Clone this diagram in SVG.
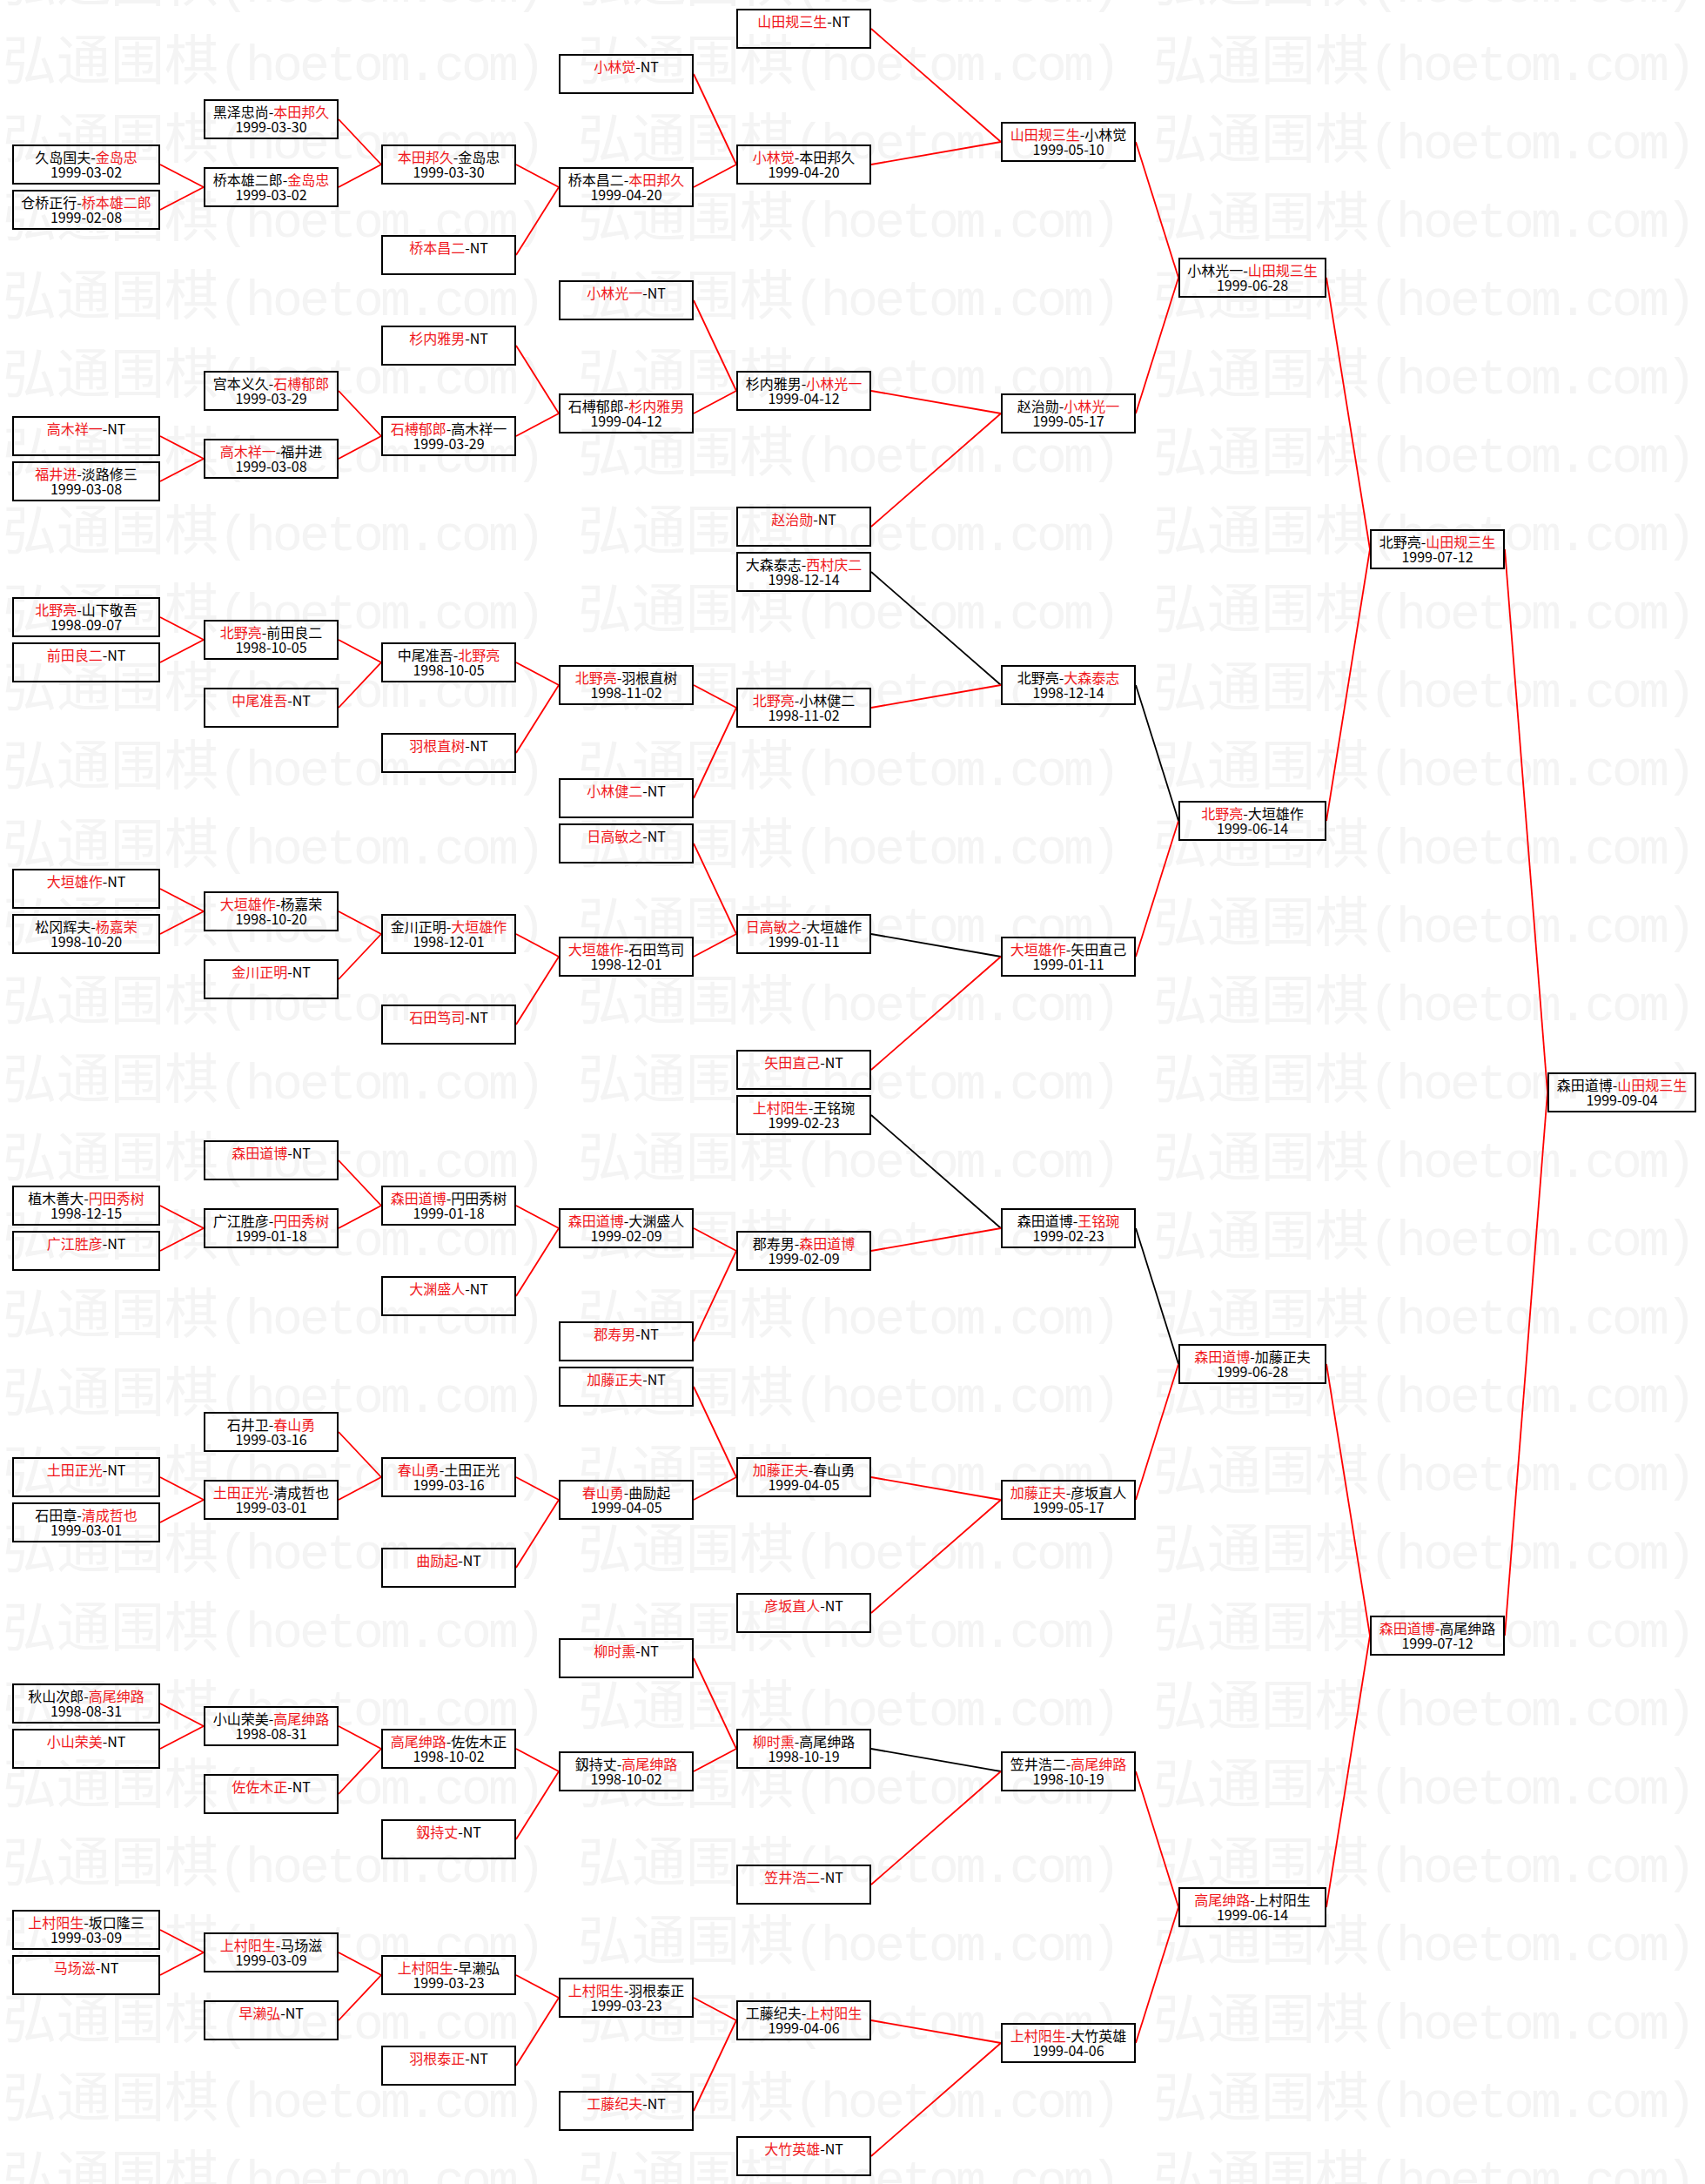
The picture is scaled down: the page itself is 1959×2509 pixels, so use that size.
<svg xmlns="http://www.w3.org/2000/svg" width="1959" height="2509" viewBox="0 0 1959 2509">
<style>
.bg{fill:#fff}
.wm{font-family:"Noto Sans CJK SC",sans-serif;font-size:62px;fill:#f4f4f4}
.wml{font-family:"Liberation Mono",monospace;font-size:58px;letter-spacing:-3.8px}
.nodes rect{fill:none;stroke:#000;stroke-width:2}
.nodes text{font-family:"Noto Sans CJK SC",sans-serif;font-size:16px;text-anchor:middle;fill:#000}
.nodes .r{fill:#f01820}
.conn line{stroke:#f00;stroke-width:1.8;fill:none}
.conn line.k{stroke:#000}
</style>
<defs>
<pattern id="wm" patternUnits="userSpaceOnUse" x="3" y="38" width="661" height="90"><text class="wm" x="0" y="54">弘通围棋<tspan class="wml">(hoetom.com)</tspan></text></pattern>
</defs>
<rect class="bg" width="1959" height="2509"/>
<rect width="1959" height="2509" fill="url(#wm)"/>
<g class="conn" id="connectors">
<line x1="184" y1="189" x2="234" y2="215"/><line x1="184" y1="241" x2="234" y2="215"/>
<line x1="184" y1="501" x2="234" y2="527"/><line x1="184" y1="553" x2="234" y2="527"/>
<line x1="184" y1="709" x2="234" y2="735"/><line x1="184" y1="761" x2="234" y2="735"/>
<line x1="184" y1="1021" x2="234" y2="1047"/><line x1="184" y1="1073" x2="234" y2="1047"/>
<line x1="184" y1="1385" x2="234" y2="1411"/><line x1="184" y1="1437" x2="234" y2="1411"/>
<line x1="184" y1="1697" x2="234" y2="1723"/><line x1="184" y1="1749" x2="234" y2="1723"/>
<line x1="184" y1="1957" x2="234" y2="1983"/><line x1="184" y1="2009" x2="234" y2="1983"/>
<line x1="184" y1="2217" x2="234" y2="2243"/><line x1="184" y1="2269" x2="234" y2="2243"/>
<line x1="389" y1="137" x2="438" y2="189"/><line x1="389" y1="215" x2="438" y2="189"/>
<line x1="389" y1="449" x2="438" y2="501"/><line x1="389" y1="527" x2="438" y2="501"/>
<line x1="389" y1="735" x2="438" y2="761"/><line x1="389" y1="813" x2="438" y2="761"/>
<line x1="389" y1="1047" x2="438" y2="1073"/><line x1="389" y1="1125" x2="438" y2="1073"/>
<line x1="389" y1="1333" x2="438" y2="1385"/><line x1="389" y1="1411" x2="438" y2="1385"/>
<line x1="389" y1="1645" x2="438" y2="1697"/><line x1="389" y1="1723" x2="438" y2="1697"/>
<line x1="389" y1="1983" x2="438" y2="2009"/><line x1="389" y1="2061" x2="438" y2="2009"/>
<line x1="389" y1="2243" x2="438" y2="2269"/><line x1="389" y1="2321" x2="438" y2="2269"/>
<line x1="593" y1="189" x2="642" y2="215"/><line x1="593" y1="293" x2="642" y2="215"/>
<line x1="593" y1="397" x2="642" y2="475"/><line x1="593" y1="501" x2="642" y2="475"/>
<line x1="593" y1="761" x2="642" y2="787"/><line x1="593" y1="865" x2="642" y2="787"/>
<line x1="593" y1="1073" x2="642" y2="1099"/><line x1="593" y1="1177" x2="642" y2="1099"/>
<line x1="593" y1="1385" x2="642" y2="1411"/><line x1="593" y1="1489" x2="642" y2="1411"/>
<line x1="593" y1="1697" x2="642" y2="1723"/><line x1="593" y1="1801" x2="642" y2="1723"/>
<line x1="593" y1="2009" x2="642" y2="2035"/><line x1="593" y1="2113" x2="642" y2="2035"/>
<line x1="593" y1="2269" x2="642" y2="2295"/><line x1="593" y1="2373" x2="642" y2="2295"/>
<line x1="797" y1="85" x2="846" y2="189"/><line x1="797" y1="215" x2="846" y2="189"/>
<line x1="797" y1="345" x2="846" y2="449"/><line x1="797" y1="475" x2="846" y2="449"/>
<line x1="797" y1="787" x2="846" y2="813"/><line x1="797" y1="917" x2="846" y2="813"/>
<line x1="797" y1="969" x2="846" y2="1073"/><line x1="797" y1="1099" x2="846" y2="1073"/>
<line x1="797" y1="1411" x2="846" y2="1437"/><line x1="797" y1="1541" x2="846" y2="1437"/>
<line x1="797" y1="1593" x2="846" y2="1697"/><line x1="797" y1="1723" x2="846" y2="1697"/>
<line x1="797" y1="1905" x2="846" y2="2009"/><line x1="797" y1="2035" x2="846" y2="2009"/>
<line x1="797" y1="2295" x2="846" y2="2321"/><line x1="797" y1="2425" x2="846" y2="2321"/>
<line x1="1001" y1="33" x2="1150" y2="163"/><line x1="1001" y1="189" x2="1150" y2="163"/>
<line x1="1001" y1="449" x2="1150" y2="475"/><line x1="1001" y1="605" x2="1150" y2="475"/>
<line class="k" x1="1001" y1="657" x2="1150" y2="787"/><line x1="1001" y1="813" x2="1150" y2="787"/>
<line class="k" x1="1001" y1="1073" x2="1150" y2="1099"/><line x1="1001" y1="1229" x2="1150" y2="1099"/>
<line class="k" x1="1001" y1="1281" x2="1150" y2="1411"/><line x1="1001" y1="1437" x2="1150" y2="1411"/>
<line x1="1001" y1="1697" x2="1150" y2="1723"/><line x1="1001" y1="1853" x2="1150" y2="1723"/>
<line class="k" x1="1001" y1="2009" x2="1150" y2="2035"/><line x1="1001" y1="2165" x2="1150" y2="2035"/>
<line x1="1001" y1="2321" x2="1150" y2="2347"/><line x1="1001" y1="2477" x2="1150" y2="2347"/>
<line x1="1305" y1="163" x2="1354" y2="319"/><line x1="1305" y1="475" x2="1354" y2="319"/>
<line class="k" x1="1305" y1="787" x2="1354" y2="943"/><line x1="1305" y1="1099" x2="1354" y2="943"/>
<line class="k" x1="1305" y1="1411" x2="1354" y2="1567"/><line x1="1305" y1="1723" x2="1354" y2="1567"/>
<line x1="1305" y1="2035" x2="1354" y2="2191"/><line x1="1305" y1="2347" x2="1354" y2="2191"/>
<line x1="1524" y1="319" x2="1574" y2="631"/><line x1="1524" y1="943" x2="1574" y2="631"/>
<line x1="1524" y1="1567" x2="1574" y2="1879"/><line x1="1524" y1="2191" x2="1574" y2="1879"/>
<line x1="1729" y1="631" x2="1778" y2="1255"/><line x1="1729" y1="1879" x2="1778" y2="1255"/>
</g>
<g class="nodes">
<g id="n0-6" transform="translate(14,166)"><rect x="1" y="1" width="168" height="44"/><text x="85" y="21">久岛国夫-<tspan class="r">金岛忠</tspan></text><text x="85" y="38">1999-03-02</text></g>
<g id="n0-8" transform="translate(14,218)"><rect x="1" y="1" width="168" height="44"/><text x="85" y="21">仓桥正行-<tspan class="r">桥本雄二郎</tspan></text><text x="85" y="38">1999-02-08</text></g>
<g id="n0-18" transform="translate(14,478)"><rect x="1" y="1" width="168" height="44"/><text x="85" y="21"><tspan class="r">高木祥一</tspan>-NT</text></g>
<g id="n0-20" transform="translate(14,530)"><rect x="1" y="1" width="168" height="44"/><text x="85" y="21"><tspan class="r">福井进</tspan>-淡路修三</text><text x="85" y="38">1999-03-08</text></g>
<g id="n0-26" transform="translate(14,686)"><rect x="1" y="1" width="168" height="44"/><text x="85" y="21"><tspan class="r">北野亮</tspan>-山下敬吾</text><text x="85" y="38">1998-09-07</text></g>
<g id="n0-28" transform="translate(14,738)"><rect x="1" y="1" width="168" height="44"/><text x="85" y="21"><tspan class="r">前田良二</tspan>-NT</text></g>
<g id="n0-38" transform="translate(14,998)"><rect x="1" y="1" width="168" height="44"/><text x="85" y="21"><tspan class="r">大垣雄作</tspan>-NT</text></g>
<g id="n0-40" transform="translate(14,1050)"><rect x="1" y="1" width="168" height="44"/><text x="85" y="21">松冈辉夫-<tspan class="r">杨嘉荣</tspan></text><text x="85" y="38">1998-10-20</text></g>
<g id="n0-52" transform="translate(14,1362)"><rect x="1" y="1" width="168" height="44"/><text x="85" y="21">植木善大-<tspan class="r">円田秀树</tspan></text><text x="85" y="38">1998-12-15</text></g>
<g id="n0-54" transform="translate(14,1414)"><rect x="1" y="1" width="168" height="44"/><text x="85" y="21"><tspan class="r">广江胜彦</tspan>-NT</text></g>
<g id="n0-64" transform="translate(14,1674)"><rect x="1" y="1" width="168" height="44"/><text x="85" y="21"><tspan class="r">土田正光</tspan>-NT</text></g>
<g id="n0-66" transform="translate(14,1726)"><rect x="1" y="1" width="168" height="44"/><text x="85" y="21">石田章-<tspan class="r">清成哲也</tspan></text><text x="85" y="38">1999-03-01</text></g>
<g id="n0-74" transform="translate(14,1934)"><rect x="1" y="1" width="168" height="44"/><text x="85" y="21">秋山次郎-<tspan class="r">高尾绅路</tspan></text><text x="85" y="38">1998-08-31</text></g>
<g id="n0-76" transform="translate(14,1986)"><rect x="1" y="1" width="168" height="44"/><text x="85" y="21"><tspan class="r">小山荣美</tspan>-NT</text></g>
<g id="n0-84" transform="translate(14,2194)"><rect x="1" y="1" width="168" height="44"/><text x="85" y="21"><tspan class="r">上村阳生</tspan>-坂口隆三</text><text x="85" y="38">1999-03-09</text></g>
<g id="n0-86" transform="translate(14,2246)"><rect x="1" y="1" width="168" height="44"/><text x="85" y="21"><tspan class="r">马场滋</tspan>-NT</text></g>

<g id="n1-4" transform="translate(234,114)"><rect x="1" y="1" width="153" height="44"/><text x="77.5" y="21">黑泽忠尚-<tspan class="r">本田邦久</tspan></text><text x="77.5" y="38">1999-03-30</text></g>
<g id="n1-7" transform="translate(234,192)"><rect x="1" y="1" width="153" height="44"/><text x="77.5" y="21">桥本雄二郎-<tspan class="r">金岛忠</tspan></text><text x="77.5" y="38">1999-03-02</text></g>
<g id="n1-16" transform="translate(234,426)"><rect x="1" y="1" width="153" height="44"/><text x="77.5" y="21">宫本义久-<tspan class="r">石榑郁郎</tspan></text><text x="77.5" y="38">1999-03-29</text></g>
<g id="n1-19" transform="translate(234,504)"><rect x="1" y="1" width="153" height="44"/><text x="77.5" y="21"><tspan class="r">高木祥一</tspan>-福井进</text><text x="77.5" y="38">1999-03-08</text></g>
<g id="n1-27" transform="translate(234,712)"><rect x="1" y="1" width="153" height="44"/><text x="77.5" y="21"><tspan class="r">北野亮</tspan>-前田良二</text><text x="77.5" y="38">1998-10-05</text></g>
<g id="n1-30" transform="translate(234,790)"><rect x="1" y="1" width="153" height="44"/><text x="77.5" y="21"><tspan class="r">中尾准吾</tspan>-NT</text></g>
<g id="n1-39" transform="translate(234,1024)"><rect x="1" y="1" width="153" height="44"/><text x="77.5" y="21"><tspan class="r">大垣雄作</tspan>-杨嘉荣</text><text x="77.5" y="38">1998-10-20</text></g>
<g id="n1-42" transform="translate(234,1102)"><rect x="1" y="1" width="153" height="44"/><text x="77.5" y="21"><tspan class="r">金川正明</tspan>-NT</text></g>
<g id="n1-50" transform="translate(234,1310)"><rect x="1" y="1" width="153" height="44"/><text x="77.5" y="21"><tspan class="r">森田道博</tspan>-NT</text></g>
<g id="n1-53" transform="translate(234,1388)"><rect x="1" y="1" width="153" height="44"/><text x="77.5" y="21">广江胜彦-<tspan class="r">円田秀树</tspan></text><text x="77.5" y="38">1999-01-18</text></g>
<g id="n1-62" transform="translate(234,1622)"><rect x="1" y="1" width="153" height="44"/><text x="77.5" y="21">石井卫-<tspan class="r">春山勇</tspan></text><text x="77.5" y="38">1999-03-16</text></g>
<g id="n1-65" transform="translate(234,1700)"><rect x="1" y="1" width="153" height="44"/><text x="77.5" y="21"><tspan class="r">土田正光</tspan>-清成哲也</text><text x="77.5" y="38">1999-03-01</text></g>
<g id="n1-75" transform="translate(234,1960)"><rect x="1" y="1" width="153" height="44"/><text x="77.5" y="21">小山荣美-<tspan class="r">高尾绅路</tspan></text><text x="77.5" y="38">1998-08-31</text></g>
<g id="n1-78" transform="translate(234,2038)"><rect x="1" y="1" width="153" height="44"/><text x="77.5" y="21"><tspan class="r">佐佐木正</tspan>-NT</text></g>
<g id="n1-85" transform="translate(234,2220)"><rect x="1" y="1" width="153" height="44"/><text x="77.5" y="21"><tspan class="r">上村阳生</tspan>-马场滋</text><text x="77.5" y="38">1999-03-09</text></g>
<g id="n1-88" transform="translate(234,2298)"><rect x="1" y="1" width="153" height="44"/><text x="77.5" y="21"><tspan class="r">早濑弘</tspan>-NT</text></g>

<g id="n2-6" transform="translate(438,166)"><rect x="1" y="1" width="153" height="44"/><text x="77.5" y="21"><tspan class="r">本田邦久</tspan>-金岛忠</text><text x="77.5" y="38">1999-03-30</text></g>
<g id="n2-10" transform="translate(438,270)"><rect x="1" y="1" width="153" height="44"/><text x="77.5" y="21"><tspan class="r">桥本昌二</tspan>-NT</text></g>
<g id="n2-14" transform="translate(438,374)"><rect x="1" y="1" width="153" height="44"/><text x="77.5" y="21"><tspan class="r">杉内雅男</tspan>-NT</text></g>
<g id="n2-18" transform="translate(438,478)"><rect x="1" y="1" width="153" height="44"/><text x="77.5" y="21"><tspan class="r">石榑郁郎</tspan>-高木祥一</text><text x="77.5" y="38">1999-03-29</text></g>
<g id="n2-28" transform="translate(438,738)"><rect x="1" y="1" width="153" height="44"/><text x="77.5" y="21">中尾准吾-<tspan class="r">北野亮</tspan></text><text x="77.5" y="38">1998-10-05</text></g>
<g id="n2-32" transform="translate(438,842)"><rect x="1" y="1" width="153" height="44"/><text x="77.5" y="21"><tspan class="r">羽根直树</tspan>-NT</text></g>
<g id="n2-40" transform="translate(438,1050)"><rect x="1" y="1" width="153" height="44"/><text x="77.5" y="21">金川正明-<tspan class="r">大垣雄作</tspan></text><text x="77.5" y="38">1998-12-01</text></g>
<g id="n2-44" transform="translate(438,1154)"><rect x="1" y="1" width="153" height="44"/><text x="77.5" y="21"><tspan class="r">石田笃司</tspan>-NT</text></g>
<g id="n2-52" transform="translate(438,1362)"><rect x="1" y="1" width="153" height="44"/><text x="77.5" y="21"><tspan class="r">森田道博</tspan>-円田秀树</text><text x="77.5" y="38">1999-01-18</text></g>
<g id="n2-56" transform="translate(438,1466)"><rect x="1" y="1" width="153" height="44"/><text x="77.5" y="21"><tspan class="r">大渊盛人</tspan>-NT</text></g>
<g id="n2-64" transform="translate(438,1674)"><rect x="1" y="1" width="153" height="44"/><text x="77.5" y="21"><tspan class="r">春山勇</tspan>-土田正光</text><text x="77.5" y="38">1999-03-16</text></g>
<g id="n2-68" transform="translate(438,1778)"><rect x="1" y="1" width="153" height="44"/><text x="77.5" y="21"><tspan class="r">曲励起</tspan>-NT</text></g>
<g id="n2-76" transform="translate(438,1986)"><rect x="1" y="1" width="153" height="44"/><text x="77.5" y="21"><tspan class="r">高尾绅路</tspan>-佐佐木正</text><text x="77.5" y="38">1998-10-02</text></g>
<g id="n2-80" transform="translate(438,2090)"><rect x="1" y="1" width="153" height="44"/><text x="77.5" y="21"><tspan class="r">釼持丈</tspan>-NT</text></g>
<g id="n2-86" transform="translate(438,2246)"><rect x="1" y="1" width="153" height="44"/><text x="77.5" y="21"><tspan class="r">上村阳生</tspan>-早濑弘</text><text x="77.5" y="38">1999-03-23</text></g>
<g id="n2-90" transform="translate(438,2350)"><rect x="1" y="1" width="153" height="44"/><text x="77.5" y="21"><tspan class="r">羽根泰正</tspan>-NT</text></g>

<g id="n3-2" transform="translate(642,62)"><rect x="1" y="1" width="153" height="44"/><text x="77.5" y="21"><tspan class="r">小林觉</tspan>-NT</text></g>
<g id="n3-7" transform="translate(642,192)"><rect x="1" y="1" width="153" height="44"/><text x="77.5" y="21">桥本昌二-<tspan class="r">本田邦久</tspan></text><text x="77.5" y="38">1999-04-20</text></g>
<g id="n3-12" transform="translate(642,322)"><rect x="1" y="1" width="153" height="44"/><text x="77.5" y="21"><tspan class="r">小林光一</tspan>-NT</text></g>
<g id="n3-17" transform="translate(642,452)"><rect x="1" y="1" width="153" height="44"/><text x="77.5" y="21">石榑郁郎-<tspan class="r">杉内雅男</tspan></text><text x="77.5" y="38">1999-04-12</text></g>
<g id="n3-29" transform="translate(642,764)"><rect x="1" y="1" width="153" height="44"/><text x="77.5" y="21"><tspan class="r">北野亮</tspan>-羽根直树</text><text x="77.5" y="38">1998-11-02</text></g>
<g id="n3-34" transform="translate(642,894)"><rect x="1" y="1" width="153" height="44"/><text x="77.5" y="21"><tspan class="r">小林健二</tspan>-NT</text></g>
<g id="n3-36" transform="translate(642,946)"><rect x="1" y="1" width="153" height="44"/><text x="77.5" y="21"><tspan class="r">日高敏之</tspan>-NT</text></g>
<g id="n3-41" transform="translate(642,1076)"><rect x="1" y="1" width="153" height="44"/><text x="77.5" y="21"><tspan class="r">大垣雄作</tspan>-石田笃司</text><text x="77.5" y="38">1998-12-01</text></g>
<g id="n3-53" transform="translate(642,1388)"><rect x="1" y="1" width="153" height="44"/><text x="77.5" y="21"><tspan class="r">森田道博</tspan>-大渊盛人</text><text x="77.5" y="38">1999-02-09</text></g>
<g id="n3-58" transform="translate(642,1518)"><rect x="1" y="1" width="153" height="44"/><text x="77.5" y="21"><tspan class="r">郡寿男</tspan>-NT</text></g>
<g id="n3-60" transform="translate(642,1570)"><rect x="1" y="1" width="153" height="44"/><text x="77.5" y="21"><tspan class="r">加藤正夫</tspan>-NT</text></g>
<g id="n3-65" transform="translate(642,1700)"><rect x="1" y="1" width="153" height="44"/><text x="77.5" y="21"><tspan class="r">春山勇</tspan>-曲励起</text><text x="77.5" y="38">1999-04-05</text></g>
<g id="n3-72" transform="translate(642,1882)"><rect x="1" y="1" width="153" height="44"/><text x="77.5" y="21"><tspan class="r">柳时熏</tspan>-NT</text></g>
<g id="n3-77" transform="translate(642,2012)"><rect x="1" y="1" width="153" height="44"/><text x="77.5" y="21">釼持丈-<tspan class="r">高尾绅路</tspan></text><text x="77.5" y="38">1998-10-02</text></g>
<g id="n3-87" transform="translate(642,2272)"><rect x="1" y="1" width="153" height="44"/><text x="77.5" y="21"><tspan class="r">上村阳生</tspan>-羽根泰正</text><text x="77.5" y="38">1999-03-23</text></g>
<g id="n3-92" transform="translate(642,2402)"><rect x="1" y="1" width="153" height="44"/><text x="77.5" y="21"><tspan class="r">工藤纪夫</tspan>-NT</text></g>

<g id="n4-0" transform="translate(846,10)"><rect x="1" y="1" width="153" height="44"/><text x="77.5" y="21"><tspan class="r">山田规三生</tspan>-NT</text></g>
<g id="n4-6" transform="translate(846,166)"><rect x="1" y="1" width="153" height="44"/><text x="77.5" y="21"><tspan class="r">小林觉</tspan>-本田邦久</text><text x="77.5" y="38">1999-04-20</text></g>
<g id="n4-16" transform="translate(846,426)"><rect x="1" y="1" width="153" height="44"/><text x="77.5" y="21">杉内雅男-<tspan class="r">小林光一</tspan></text><text x="77.5" y="38">1999-04-12</text></g>
<g id="n4-22" transform="translate(846,582)"><rect x="1" y="1" width="153" height="44"/><text x="77.5" y="21"><tspan class="r">赵治勋</tspan>-NT</text></g>
<g id="n4-24" transform="translate(846,634)"><rect x="1" y="1" width="153" height="44"/><text x="77.5" y="21">大森泰志-<tspan class="r">西村庆二</tspan></text><text x="77.5" y="38">1998-12-14</text></g>
<g id="n4-30" transform="translate(846,790)"><rect x="1" y="1" width="153" height="44"/><text x="77.5" y="21"><tspan class="r">北野亮</tspan>-小林健二</text><text x="77.5" y="38">1998-11-02</text></g>
<g id="n4-40" transform="translate(846,1050)"><rect x="1" y="1" width="153" height="44"/><text x="77.5" y="21"><tspan class="r">日高敏之</tspan>-大垣雄作</text><text x="77.5" y="38">1999-01-11</text></g>
<g id="n4-46" transform="translate(846,1206)"><rect x="1" y="1" width="153" height="44"/><text x="77.5" y="21"><tspan class="r">矢田直己</tspan>-NT</text></g>
<g id="n4-48" transform="translate(846,1258)"><rect x="1" y="1" width="153" height="44"/><text x="77.5" y="21"><tspan class="r">上村阳生</tspan>-王铭琬</text><text x="77.5" y="38">1999-02-23</text></g>
<g id="n4-54" transform="translate(846,1414)"><rect x="1" y="1" width="153" height="44"/><text x="77.5" y="21">郡寿男-<tspan class="r">森田道博</tspan></text><text x="77.5" y="38">1999-02-09</text></g>
<g id="n4-64" transform="translate(846,1674)"><rect x="1" y="1" width="153" height="44"/><text x="77.5" y="21"><tspan class="r">加藤正夫</tspan>-春山勇</text><text x="77.5" y="38">1999-04-05</text></g>
<g id="n4-70" transform="translate(846,1830)"><rect x="1" y="1" width="153" height="44"/><text x="77.5" y="21"><tspan class="r">彦坂直人</tspan>-NT</text></g>
<g id="n4-76" transform="translate(846,1986)"><rect x="1" y="1" width="153" height="44"/><text x="77.5" y="21"><tspan class="r">柳时熏</tspan>-高尾绅路</text><text x="77.5" y="38">1998-10-19</text></g>
<g id="n4-82" transform="translate(846,2142)"><rect x="1" y="1" width="153" height="44"/><text x="77.5" y="21"><tspan class="r">笠井浩二</tspan>-NT</text></g>
<g id="n4-88" transform="translate(846,2298)"><rect x="1" y="1" width="153" height="44"/><text x="77.5" y="21">工藤纪夫-<tspan class="r">上村阳生</tspan></text><text x="77.5" y="38">1999-04-06</text></g>
<g id="n4-94" transform="translate(846,2454)"><rect x="1" y="1" width="153" height="44"/><text x="77.5" y="21"><tspan class="r">大竹英雄</tspan>-NT</text></g>

<g id="n5-5" transform="translate(1150,140)"><rect x="1" y="1" width="153" height="44"/><text x="77.5" y="21"><tspan class="r">山田规三生</tspan>-小林觉</text><text x="77.5" y="38">1999-05-10</text></g>
<g id="n5-17" transform="translate(1150,452)"><rect x="1" y="1" width="153" height="44"/><text x="77.5" y="21">赵治勋-<tspan class="r">小林光一</tspan></text><text x="77.5" y="38">1999-05-17</text></g>
<g id="n5-29" transform="translate(1150,764)"><rect x="1" y="1" width="153" height="44"/><text x="77.5" y="21">北野亮-<tspan class="r">大森泰志</tspan></text><text x="77.5" y="38">1998-12-14</text></g>
<g id="n5-41" transform="translate(1150,1076)"><rect x="1" y="1" width="153" height="44"/><text x="77.5" y="21"><tspan class="r">大垣雄作</tspan>-矢田直己</text><text x="77.5" y="38">1999-01-11</text></g>
<g id="n5-53" transform="translate(1150,1388)"><rect x="1" y="1" width="153" height="44"/><text x="77.5" y="21">森田道博-<tspan class="r">王铭琬</tspan></text><text x="77.5" y="38">1999-02-23</text></g>
<g id="n5-65" transform="translate(1150,1700)"><rect x="1" y="1" width="153" height="44"/><text x="77.5" y="21"><tspan class="r">加藤正夫</tspan>-彦坂直人</text><text x="77.5" y="38">1999-05-17</text></g>
<g id="n5-77" transform="translate(1150,2012)"><rect x="1" y="1" width="153" height="44"/><text x="77.5" y="21">笠井浩二-<tspan class="r">高尾绅路</tspan></text><text x="77.5" y="38">1998-10-19</text></g>
<g id="n5-89" transform="translate(1150,2324)"><rect x="1" y="1" width="153" height="44"/><text x="77.5" y="21"><tspan class="r">上村阳生</tspan>-大竹英雄</text><text x="77.5" y="38">1999-04-06</text></g>

<g id="n6-11" transform="translate(1354,296)"><rect x="1" y="1" width="168" height="44"/><text x="85" y="21">小林光一-<tspan class="r">山田规三生</tspan></text><text x="85" y="38">1999-06-28</text></g>
<g id="n6-35" transform="translate(1354,920)"><rect x="1" y="1" width="168" height="44"/><text x="85" y="21"><tspan class="r">北野亮</tspan>-大垣雄作</text><text x="85" y="38">1999-06-14</text></g>
<g id="n6-59" transform="translate(1354,1544)"><rect x="1" y="1" width="168" height="44"/><text x="85" y="21"><tspan class="r">森田道博</tspan>-加藤正夫</text><text x="85" y="38">1999-06-28</text></g>
<g id="n6-83" transform="translate(1354,2168)"><rect x="1" y="1" width="168" height="44"/><text x="85" y="21"><tspan class="r">高尾绅路</tspan>-上村阳生</text><text x="85" y="38">1999-06-14</text></g>

<g id="n7-23" transform="translate(1574,608)"><rect x="1" y="1" width="153" height="44"/><text x="77.5" y="21">北野亮-<tspan class="r">山田规三生</tspan></text><text x="77.5" y="38">1999-07-12</text></g>
<g id="n7-71" transform="translate(1574,1856)"><rect x="1" y="1" width="153" height="44"/><text x="77.5" y="21"><tspan class="r">森田道博</tspan>-高尾绅路</text><text x="77.5" y="38">1999-07-12</text></g>

<g id="n8-47" transform="translate(1778,1232)"><rect x="1" y="1" width="169" height="44"/><text x="85.5" y="21">森田道博-<tspan class="r">山田规三生</tspan></text><text x="85.5" y="38">1999-09-04</text></g>
</g>
</svg>
